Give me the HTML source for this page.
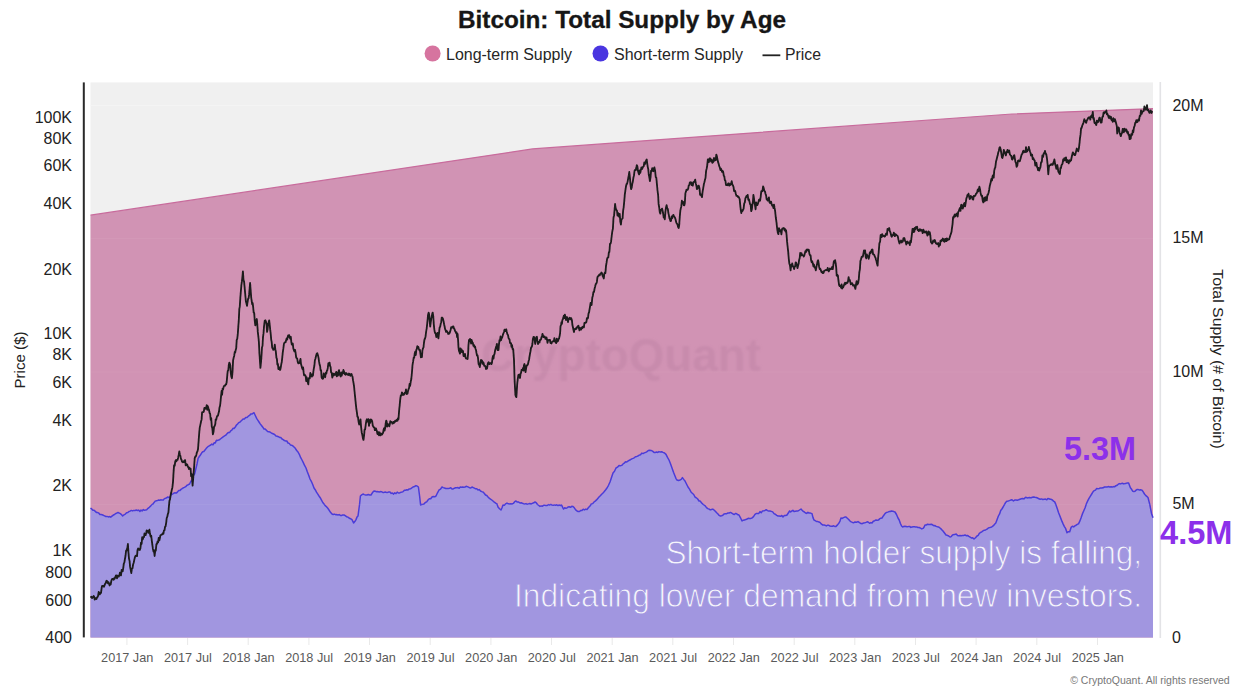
<!DOCTYPE html>
<html><head><meta charset="utf-8">
<style>
html,body{margin:0;padding:0;background:#fff;}
body{width:1250px;height:700px;overflow:hidden;position:relative;font-family:"Liberation Sans",sans-serif;}
svg{position:absolute;left:0;top:0;}
text{font-family:"Liberation Sans",sans-serif;}
</style></head><body>
<svg width="1250" height="700" viewBox="0 0 1250 700">
<defs><filter id="lsoft" x="-2%" y="-2%" width="104%" height="104%"><feGaussianBlur stdDeviation="0.3"/></filter><filter id="soft" x="-5%" y="-5%" width="110%" height="110%"><feGaussianBlur stdDeviation="0.8"/></filter></defs>
<rect x="0" y="0" width="1250" height="700" fill="#ffffff"/>
<!-- plot bg -->
<rect x="90.5" y="82.4" width="1062.5" height="555.1" fill="#f0f0f0"/>
<rect x="90.5" y="105" width="1062.5" height="1" fill="#f4f4f4"/>
<!-- long-term (total) area -->
<path d="M90.5,215.2 L532.6,148.9 L1012.0,114.0 L1153.0,108.6 L1153.0,637.5 L90.5,637.5 Z" fill="#d193b4"/>
<path d="M90.5,215.2 L532.6,148.9 L1012.0,114.0 L1153.0,108.6" fill="none" stroke="#c86b9c" stroke-width="1.2"/>
<!-- watermark -->
<text x="621" y="371" font-size="46" font-weight="bold" text-anchor="middle" fill="#b97fa1" fill-opacity="0.38" textLength="280" lengthAdjust="spacingAndGlyphs" filter="url(#soft)">CryptoQuant</text>
<!-- short-term area -->
<path d="M90.5,508.0 L91.7,508.9 L92.9,510.3 L94.1,510.3 L95.3,511.4 L96.4,512.4 L97.6,512.6 L98.7,513.0 L99.9,514.5 L101.0,514.6 L102.1,514.8 L103.4,515.3 L104.6,515.9 L105.8,516.5 L107.0,516.4 L108.3,516.9 L109.5,516.6 L110.7,517.2 L111.9,516.2 L113.0,515.3 L114.1,514.8 L115.4,513.7 L116.7,513.1 L118.0,512.5 L119.3,513.1 L120.4,513.6 L121.6,514.7 L122.7,515.9 L124.0,514.8 L125.3,514.1 L126.6,512.7 L127.9,512.4 L129.0,511.5 L130.1,511.1 L131.3,510.4 L132.5,510.9 L133.7,510.4 L135.0,510.6 L136.2,510.0 L137.4,510.5 L138.6,510.1 L139.9,511.4 L141.0,510.1 L142.1,511.0 L143.3,509.6 L144.4,510.3 L145.6,510.1 L146.7,509.7 L148.0,508.3 L149.3,507.3 L150.6,506.1 L151.8,504.6 L153.0,504.0 L154.1,502.4 L155.3,501.1 L156.4,500.7 L157.6,500.4 L158.7,500.0 L159.8,500.2 L161.0,499.8 L162.1,500.1 L163.3,500.0 L164.4,498.6 L165.6,498.2 L166.7,497.8 L167.8,496.9 L169.0,497.7 L170.1,497.0 L171.3,494.5 L172.4,494.3 L173.7,493.2 L175.0,492.7 L176.3,493.1 L177.6,491.9 L178.7,490.5 L179.8,490.6 L181.0,489.4 L182.1,488.7 L183.3,487.8 L184.4,487.4 L185.7,486.7 L187.0,485.2 L188.3,484.7 L189.6,484.0 L190.8,481.5 L192.1,479.7 L193.4,475.5 L194.7,473.7 L195.8,469.0 L197.0,464.0 L198.1,458.3 L199.3,456.5 L200.4,455.0 L201.6,453.1 L202.7,451.8 L203.8,451.5 L205.0,450.0 L206.1,448.6 L207.3,447.3 L208.4,446.3 L209.6,445.6 L210.7,445.0 L211.8,444.1 L213.0,444.8 L214.1,442.8 L215.3,442.9 L216.4,440.2 L217.6,440.4 L218.7,440.0 L219.8,439.5 L221.0,438.5 L222.1,437.7 L223.4,436.6 L224.6,435.9 L225.8,435.2 L227.0,433.8 L228.2,432.6 L229.5,432.6 L230.7,430.9 L231.8,430.2 L233.0,428.3 L234.1,428.4 L235.3,427.0 L236.4,425.1 L237.6,424.0 L238.7,422.6 L239.8,422.2 L241.0,421.0 L242.1,420.0 L243.3,418.9 L244.4,418.9 L245.7,417.5 L247.0,417.5 L248.3,416.2 L249.6,415.4 L250.7,414.1 L251.8,414.1 L252.9,413.4 L254.0,412.7 L255.4,415.7 L256.8,418.6 L258.1,420.6 L259.0,422.0 L260.2,423.9 L261.5,425.5 L262.8,427.2 L264.0,429.0 L265.2,429.1 L266.4,430.3 L267.6,431.5 L268.8,431.7 L270.0,432.0 L271.2,432.8 L272.4,433.5 L273.6,434.0 L274.8,434.7 L276.0,436.0 L277.2,436.2 L278.4,436.7 L279.6,437.4 L280.8,437.6 L282.0,439.0 L283.2,439.7 L284.4,440.6 L285.6,440.9 L286.8,441.0 L288.0,443.0 L289.2,443.4 L290.4,444.9 L291.6,445.2 L292.8,445.9 L294.0,447.0 L295.3,448.3 L296.7,450.5 L298.0,452.0 L299.3,454.3 L300.7,457.7 L302.0,460.0 L303.3,462.6 L304.7,465.7 L306.0,468.0 L307.3,471.8 L308.7,475.3 L310.0,479.0 L311.3,481.3 L312.7,484.5 L314.0,488.0 L315.2,489.7 L316.5,492.2 L317.8,494.2 L319.0,496.0 L320.2,497.7 L321.5,500.1 L322.8,502.5 L324.0,504.0 L325.2,505.6 L326.5,506.8 L327.8,508.3 L329.0,510.0 L330.5,512.3 L332.0,514.0 L333.2,514.5 L334.4,514.1 L335.6,514.7 L336.8,514.6 L338.0,515.0 L339.2,514.6 L340.4,515.4 L341.6,515.5 L342.8,514.9 L344.0,515.0 L345.2,515.7 L346.5,516.7 L347.8,517.0 L349.0,518.0 L350.5,518.7 L352.0,519.6 L353.6,523.0 L354.8,521.6 L356.0,519.6 L357.0,517.1 L358.0,516.0 L359.6,504.0 L360.4,496.0 L361.7,494.9 L363.0,494.0 L364.3,494.6 L365.7,495.0 L367.0,495.0 L368.3,494.5 L369.7,495.0 L371.0,495.0 L372.5,492.6 L374.0,491.0 L375.3,491.3 L376.7,491.7 L378.0,491.6 L379.2,492.0 L380.4,491.6 L381.6,491.7 L382.8,492.5 L384.0,492.4 L385.2,492.0 L386.4,492.4 L387.6,492.4 L388.8,492.0 L390.0,492.0 L391.2,493.4 L392.4,493.0 L393.6,494.1 L394.8,492.8 L396.0,493.6 L397.2,492.1 L398.4,493.0 L399.6,492.9 L400.8,492.3 L402.0,492.0 L403.2,491.6 L404.4,490.3 L405.6,490.2 L406.8,489.7 L408.0,490.0 L409.2,488.9 L410.5,488.8 L411.8,487.9 L413.0,487.0 L414.5,486.5 L416.0,485.6 L417.2,486.1 L418.4,487.0 L419.6,496.0 L420.6,505.0 L421.7,504.4 L422.9,504.3 L424.0,504.0 L425.3,502.5 L426.7,501.9 L428.0,500.0 L429.3,498.8 L430.7,498.8 L432.0,497.0 L433.3,496.5 L434.7,496.8 L436.0,496.0 L437.5,492.8 L439.0,490.0 L440.5,489.2 L442.0,487.0 L443.2,487.6 L444.5,488.0 L445.8,488.5 L447.0,488.4 L448.2,488.4 L449.5,488.2 L450.8,487.8 L452.0,489.0 L453.2,488.9 L454.4,488.2 L455.6,487.8 L456.8,487.7 L458.0,487.6 L459.2,488.3 L460.3,486.9 L461.5,487.2 L462.7,487.0 L463.8,487.3 L465.0,487.0 L466.2,486.3 L467.3,486.6 L468.5,487.2 L469.7,487.8 L470.8,488.0 L472.0,487.0 L473.2,487.6 L474.4,488.2 L475.6,488.8 L476.8,488.8 L478.0,490.0 L479.2,489.6 L480.5,491.0 L481.8,491.6 L483.0,492.0 L484.2,493.2 L485.5,495.0 L486.8,495.5 L488.0,497.0 L489.2,498.1 L490.5,499.1 L491.8,500.0 L493.0,501.0 L494.3,502.2 L495.7,503.2 L497.0,504.0 L498.0,507.0 L499.5,508.7 L501.0,510.0 L502.0,507.7 L503.0,505.0 L504.3,505.3 L505.7,503.9 L507.0,503.0 L508.2,503.8 L509.5,504.0 L510.8,503.8 L512.0,504.0 L513.3,503.4 L514.7,501.7 L516.0,501.0 L517.3,502.1 L518.7,502.1 L520.0,503.0 L521.2,502.8 L522.4,503.3 L523.6,503.7 L524.8,504.0 L526.0,503.6 L527.2,504.3 L528.5,503.9 L529.8,503.5 L531.0,504.0 L532.3,503.4 L533.7,502.8 L535.0,502.0 L536.2,502.7 L537.5,504.5 L538.8,505.5 L540.0,506.4 L541.2,505.9 L542.4,506.2 L543.6,505.3 L544.8,505.2 L546.0,505.6 L547.2,505.5 L548.4,504.6 L549.6,505.0 L550.8,504.4 L552.0,505.0 L553.2,505.2 L554.4,504.9 L555.6,505.3 L556.8,504.8 L558.0,505.6 L559.2,505.0 L560.4,505.5 L561.6,505.0 L562.6,507.3 L563.6,509.0 L564.7,507.8 L565.8,508.2 L566.9,508.0 L568.0,507.0 L569.2,506.8 L570.5,507.3 L571.8,506.3 L573.0,506.4 L574.3,507.8 L575.7,509.9 L577.0,511.0 L578.2,511.6 L579.5,511.5 L580.8,510.4 L582.0,510.4 L583.2,509.3 L584.5,509.9 L585.8,509.1 L587.0,509.6 L588.5,507.5 L590.0,506.0 L591.3,504.0 L592.7,503.6 L594.0,502.0 L595.2,501.2 L596.5,499.9 L597.8,498.4 L599.0,497.0 L600.3,495.7 L601.7,494.2 L603.0,493.0 L604.3,491.5 L605.7,489.8 L607.0,488.0 L608.5,485.3 L610.0,482.0 L611.5,477.4 L613.0,473.0 L614.5,471.3 L616.0,468.0 L617.5,467.2 L619.0,465.6 L620.3,465.8 L621.7,465.4 L623.0,464.0 L624.2,463.2 L625.5,461.7 L626.8,462.0 L628.0,461.0 L629.2,460.3 L630.5,459.7 L631.8,458.9 L633.0,458.4 L634.2,457.8 L635.5,456.7 L636.8,456.4 L638.0,456.0 L639.2,455.1 L640.5,454.7 L641.8,453.1 L643.0,453.6 L644.3,452.9 L645.7,452.4 L647.0,451.6 L648.3,450.5 L649.7,450.2 L651.0,450.4 L652.5,451.2 L654.0,452.4 L655.2,452.4 L656.5,452.1 L657.8,452.4 L659.0,451.6 L660.3,452.1 L661.7,451.8 L663.0,452.4 L664.5,453.0 L666.0,454.4 L667.5,457.4 L669.0,460.0 L670.5,463.8 L672.0,468.0 L673.5,472.3 L675.0,476.0 L676.0,478.6 L677.0,480.0 L678.5,480.5 L680.0,480.0 L681.2,479.4 L682.4,477.6 L683.7,479.4 L685.0,481.0 L686.5,484.0 L688.0,487.0 L689.5,489.2 L691.0,492.0 L692.3,493.3 L693.7,494.5 L695.0,497.0 L696.3,497.8 L697.7,499.0 L699.0,501.0 L700.2,501.1 L701.5,502.8 L702.8,504.1 L704.0,505.0 L705.2,505.9 L706.5,507.6 L707.8,508.6 L709.0,509.0 L710.2,509.9 L711.5,509.5 L712.8,509.1 L714.0,510.0 L715.3,511.3 L716.7,512.8 L718.0,514.0 L719.2,515.4 L720.4,516.0 L721.6,515.7 L722.8,515.3 L724.0,514.0 L725.3,513.8 L726.7,513.7 L728.0,513.0 L729.2,513.0 L730.5,512.4 L731.8,513.2 L733.0,514.0 L734.3,514.5 L735.7,513.4 L737.0,514.0 L738.0,514.8 L739.0,515.0 L740.5,517.8 L742.0,521.0 L743.2,520.2 L744.5,519.9 L745.8,519.6 L747.0,519.0 L748.2,518.3 L749.5,518.4 L750.8,518.4 L752.0,518.0 L753.5,516.6 L755.0,514.4 L756.2,513.5 L757.5,513.6 L758.8,513.4 L760.0,511.6 L761.2,512.8 L762.5,510.9 L763.8,510.7 L765.0,510.4 L766.2,509.7 L767.5,510.6 L768.8,511.1 L770.0,511.0 L771.3,511.4 L772.7,511.9 L774.0,513.6 L775.3,514.2 L776.7,515.4 L778.0,516.0 L779.2,516.0 L780.5,516.3 L781.8,515.5 L783.0,517.0 L784.3,515.6 L785.7,515.5 L787.0,515.0 L788.3,513.0 L789.6,511.0 L790.7,511.9 L791.8,511.0 L792.9,510.3 L794.0,511.6 L795.3,511.2 L796.7,510.9 L798.0,511.0 L799.5,510.0 L801.0,509.0 L802.1,510.3 L803.3,511.4 L804.4,512.0 L805.5,513.0 L806.7,513.4 L807.9,512.3 L809.0,513.0 L810.5,513.1 L812.0,513.6 L813.0,517.6 L814.0,520.0 L815.2,520.6 L816.5,521.5 L817.8,521.6 L819.0,522.0 L820.2,522.6 L821.5,524.2 L822.8,525.0 L824.0,525.0 L825.2,525.3 L826.4,525.9 L827.6,525.2 L828.8,525.3 L830.0,526.0 L831.2,526.3 L832.4,526.3 L833.6,525.8 L834.8,526.4 L836.0,526.4 L837.5,524.9 L839.0,523.0 L840.0,521.1 L841.0,518.0 L842.2,518.4 L843.5,517.6 L844.8,517.1 L846.0,517.0 L847.3,518.2 L848.7,519.5 L850.0,521.0 L851.2,521.9 L852.5,522.4 L853.8,522.7 L855.0,522.0 L856.5,522.3 L858.0,521.6 L859.5,522.7 L861.0,523.6 L862.2,523.7 L863.5,523.0 L864.8,522.8 L866.0,522.4 L867.2,521.8 L868.4,522.2 L869.6,523.3 L870.8,522.6 L872.0,523.0 L873.3,521.2 L874.7,520.7 L876.0,520.0 L877.2,520.2 L878.4,520.1 L879.6,518.9 L880.8,518.2 L882.0,518.0 L883.5,515.7 L885.0,513.6 L886.3,512.5 L887.7,512.1 L889.0,511.6 L890.2,511.5 L891.4,511.0 L892.6,511.3 L893.8,511.6 L895.0,512.0 L896.5,514.5 L898.0,518.0 L899.2,520.0 L900.4,523.5 L901.6,526.0 L902.7,527.0 L903.8,526.4 L904.9,526.2 L906.0,526.4 L907.2,526.7 L908.4,526.6 L909.6,526.4 L910.8,527.4 L912.0,527.0 L913.2,526.8 L914.4,526.8 L915.6,526.9 L916.8,526.9 L918.0,527.6 L919.2,527.5 L920.5,528.2 L921.8,528.9 L923.0,528.4 L924.0,527.2 L925.0,525.0 L926.2,525.1 L927.5,524.2 L928.8,524.4 L930.0,524.4 L931.2,524.2 L932.5,524.8 L933.8,525.7 L935.0,525.6 L936.2,526.4 L937.5,526.8 L938.8,527.1 L940.0,528.0 L941.5,529.4 L943.0,531.0 L944.5,533.0 L946.0,535.0 L947.3,535.3 L948.7,536.0 L950.0,537.0 L951.2,536.6 L952.5,535.0 L953.8,534.6 L955.0,534.4 L956.2,534.0 L957.5,535.5 L958.8,535.7 L960.0,535.6 L961.2,535.8 L962.5,535.6 L963.8,535.4 L965.0,535.0 L966.2,535.7 L967.5,535.4 L968.8,536.4 L970.0,537.0 L971.3,537.9 L972.7,537.8 L974.0,539.0 L975.5,537.7 L977.0,536.0 L978.2,535.3 L979.3,533.4 L980.5,532.5 L981.7,531.8 L983.0,530.9 L984.3,530.2 L985.6,529.9 L987.0,529.2 L988.3,528.0 L989.6,527.6 L990.9,527.2 L992.2,526.6 L993.4,525.7 L994.6,524.3 L995.8,523.0 L997.1,519.5 L998.4,516.0 L999.6,513.9 L1000.7,510.5 L1001.9,509.0 L1003.1,507.0 L1004.3,504.8 L1005.4,502.8 L1006.8,501.3 L1008.1,501.0 L1009.4,500.6 L1010.7,500.1 L1012.0,499.8 L1013.4,501.0 L1014.7,500.1 L1016.0,499.9 L1017.3,500.2 L1018.6,499.8 L1020.0,499.2 L1021.3,498.7 L1022.6,498.5 L1023.9,498.9 L1025.7,497.2 L1027.0,497.9 L1028.3,497.7 L1029.6,497.5 L1031.0,497.9 L1032.3,497.3 L1033.6,497.0 L1034.9,497.3 L1036.2,497.5 L1037.6,498.0 L1038.9,498.8 L1040.2,499.3 L1041.5,498.9 L1042.8,499.5 L1044.2,499.2 L1045.5,499.1 L1046.8,499.8 L1047.9,498.5 L1049.0,498.7 L1050.1,499.3 L1051.2,499.3 L1052.4,500.0 L1053.5,501.1 L1054.7,501.9 L1056.0,504.9 L1057.4,509.0 L1058.5,512.4 L1059.7,515.6 L1060.9,518.6 L1062.0,521.4 L1063.2,524.1 L1064.4,526.6 L1065.7,528.7 L1067.0,532.7 L1068.4,531.7 L1069.7,531.8 L1071.1,527.4 L1072.4,526.2 L1073.7,526.9 L1075.0,525.7 L1076.1,525.2 L1077.3,524.3 L1078.5,523.9 L1079.8,521.2 L1081.1,517.8 L1082.4,513.9 L1083.8,510.7 L1085.1,507.7 L1086.4,503.7 L1087.7,500.9 L1089.0,498.4 L1090.4,496.1 L1091.7,494.0 L1093.0,491.8 L1094.3,490.5 L1095.5,490.1 L1096.7,488.4 L1097.8,488.7 L1099.2,488.5 L1100.5,487.9 L1101.8,488.0 L1103.1,487.8 L1104.4,487.0 L1105.8,487.1 L1107.1,487.0 L1108.4,486.6 L1109.7,486.9 L1111.0,486.8 L1112.4,487.0 L1113.7,486.6 L1114.8,486.7 L1116.0,485.7 L1117.2,485.2 L1118.3,484.2 L1119.4,483.6 L1120.5,483.9 L1121.6,483.4 L1122.7,483.3 L1123.8,483.9 L1124.9,483.6 L1126.0,483.4 L1127.3,482.9 L1128.6,483.1 L1130.4,487.8 L1131.6,489.3 L1132.7,491.2 L1133.9,491.4 L1135.0,491.2 L1136.1,490.1 L1137.2,489.5 L1138.3,489.6 L1139.5,490.0 L1140.7,489.8 L1141.8,490.1 L1143.2,491.8 L1144.5,494.0 L1145.6,495.4 L1146.8,496.4 L1148.0,497.5 L1149.8,504.6 L1151.5,513.4 L1153.0,517.8 L1153.0,637.5 L90.5,637.5 Z" fill="#a196e0"/>
<path d="M90.5,508.0 L91.7,508.9 L92.9,510.3 L94.1,510.3 L95.3,511.4 L96.4,512.4 L97.6,512.6 L98.7,513.0 L99.9,514.5 L101.0,514.6 L102.1,514.8 L103.4,515.3 L104.6,515.9 L105.8,516.5 L107.0,516.4 L108.3,516.9 L109.5,516.6 L110.7,517.2 L111.9,516.2 L113.0,515.3 L114.1,514.8 L115.4,513.7 L116.7,513.1 L118.0,512.5 L119.3,513.1 L120.4,513.6 L121.6,514.7 L122.7,515.9 L124.0,514.8 L125.3,514.1 L126.6,512.7 L127.9,512.4 L129.0,511.5 L130.1,511.1 L131.3,510.4 L132.5,510.9 L133.7,510.4 L135.0,510.6 L136.2,510.0 L137.4,510.5 L138.6,510.1 L139.9,511.4 L141.0,510.1 L142.1,511.0 L143.3,509.6 L144.4,510.3 L145.6,510.1 L146.7,509.7 L148.0,508.3 L149.3,507.3 L150.6,506.1 L151.8,504.6 L153.0,504.0 L154.1,502.4 L155.3,501.1 L156.4,500.7 L157.6,500.4 L158.7,500.0 L159.8,500.2 L161.0,499.8 L162.1,500.1 L163.3,500.0 L164.4,498.6 L165.6,498.2 L166.7,497.8 L167.8,496.9 L169.0,497.7 L170.1,497.0 L171.3,494.5 L172.4,494.3 L173.7,493.2 L175.0,492.7 L176.3,493.1 L177.6,491.9 L178.7,490.5 L179.8,490.6 L181.0,489.4 L182.1,488.7 L183.3,487.8 L184.4,487.4 L185.7,486.7 L187.0,485.2 L188.3,484.7 L189.6,484.0 L190.8,481.5 L192.1,479.7 L193.4,475.5 L194.7,473.7 L195.8,469.0 L197.0,464.0 L198.1,458.3 L199.3,456.5 L200.4,455.0 L201.6,453.1 L202.7,451.8 L203.8,451.5 L205.0,450.0 L206.1,448.6 L207.3,447.3 L208.4,446.3 L209.6,445.6 L210.7,445.0 L211.8,444.1 L213.0,444.8 L214.1,442.8 L215.3,442.9 L216.4,440.2 L217.6,440.4 L218.7,440.0 L219.8,439.5 L221.0,438.5 L222.1,437.7 L223.4,436.6 L224.6,435.9 L225.8,435.2 L227.0,433.8 L228.2,432.6 L229.5,432.6 L230.7,430.9 L231.8,430.2 L233.0,428.3 L234.1,428.4 L235.3,427.0 L236.4,425.1 L237.6,424.0 L238.7,422.6 L239.8,422.2 L241.0,421.0 L242.1,420.0 L243.3,418.9 L244.4,418.9 L245.7,417.5 L247.0,417.5 L248.3,416.2 L249.6,415.4 L250.7,414.1 L251.8,414.1 L252.9,413.4 L254.0,412.7 L255.4,415.7 L256.8,418.6 L258.1,420.6 L259.0,422.0 L260.2,423.9 L261.5,425.5 L262.8,427.2 L264.0,429.0 L265.2,429.1 L266.4,430.3 L267.6,431.5 L268.8,431.7 L270.0,432.0 L271.2,432.8 L272.4,433.5 L273.6,434.0 L274.8,434.7 L276.0,436.0 L277.2,436.2 L278.4,436.7 L279.6,437.4 L280.8,437.6 L282.0,439.0 L283.2,439.7 L284.4,440.6 L285.6,440.9 L286.8,441.0 L288.0,443.0 L289.2,443.4 L290.4,444.9 L291.6,445.2 L292.8,445.9 L294.0,447.0 L295.3,448.3 L296.7,450.5 L298.0,452.0 L299.3,454.3 L300.7,457.7 L302.0,460.0 L303.3,462.6 L304.7,465.7 L306.0,468.0 L307.3,471.8 L308.7,475.3 L310.0,479.0 L311.3,481.3 L312.7,484.5 L314.0,488.0 L315.2,489.7 L316.5,492.2 L317.8,494.2 L319.0,496.0 L320.2,497.7 L321.5,500.1 L322.8,502.5 L324.0,504.0 L325.2,505.6 L326.5,506.8 L327.8,508.3 L329.0,510.0 L330.5,512.3 L332.0,514.0 L333.2,514.5 L334.4,514.1 L335.6,514.7 L336.8,514.6 L338.0,515.0 L339.2,514.6 L340.4,515.4 L341.6,515.5 L342.8,514.9 L344.0,515.0 L345.2,515.7 L346.5,516.7 L347.8,517.0 L349.0,518.0 L350.5,518.7 L352.0,519.6 L353.6,523.0 L354.8,521.6 L356.0,519.6 L357.0,517.1 L358.0,516.0 L359.6,504.0 L360.4,496.0 L361.7,494.9 L363.0,494.0 L364.3,494.6 L365.7,495.0 L367.0,495.0 L368.3,494.5 L369.7,495.0 L371.0,495.0 L372.5,492.6 L374.0,491.0 L375.3,491.3 L376.7,491.7 L378.0,491.6 L379.2,492.0 L380.4,491.6 L381.6,491.7 L382.8,492.5 L384.0,492.4 L385.2,492.0 L386.4,492.4 L387.6,492.4 L388.8,492.0 L390.0,492.0 L391.2,493.4 L392.4,493.0 L393.6,494.1 L394.8,492.8 L396.0,493.6 L397.2,492.1 L398.4,493.0 L399.6,492.9 L400.8,492.3 L402.0,492.0 L403.2,491.6 L404.4,490.3 L405.6,490.2 L406.8,489.7 L408.0,490.0 L409.2,488.9 L410.5,488.8 L411.8,487.9 L413.0,487.0 L414.5,486.5 L416.0,485.6 L417.2,486.1 L418.4,487.0 L419.6,496.0 L420.6,505.0 L421.7,504.4 L422.9,504.3 L424.0,504.0 L425.3,502.5 L426.7,501.9 L428.0,500.0 L429.3,498.8 L430.7,498.8 L432.0,497.0 L433.3,496.5 L434.7,496.8 L436.0,496.0 L437.5,492.8 L439.0,490.0 L440.5,489.2 L442.0,487.0 L443.2,487.6 L444.5,488.0 L445.8,488.5 L447.0,488.4 L448.2,488.4 L449.5,488.2 L450.8,487.8 L452.0,489.0 L453.2,488.9 L454.4,488.2 L455.6,487.8 L456.8,487.7 L458.0,487.6 L459.2,488.3 L460.3,486.9 L461.5,487.2 L462.7,487.0 L463.8,487.3 L465.0,487.0 L466.2,486.3 L467.3,486.6 L468.5,487.2 L469.7,487.8 L470.8,488.0 L472.0,487.0 L473.2,487.6 L474.4,488.2 L475.6,488.8 L476.8,488.8 L478.0,490.0 L479.2,489.6 L480.5,491.0 L481.8,491.6 L483.0,492.0 L484.2,493.2 L485.5,495.0 L486.8,495.5 L488.0,497.0 L489.2,498.1 L490.5,499.1 L491.8,500.0 L493.0,501.0 L494.3,502.2 L495.7,503.2 L497.0,504.0 L498.0,507.0 L499.5,508.7 L501.0,510.0 L502.0,507.7 L503.0,505.0 L504.3,505.3 L505.7,503.9 L507.0,503.0 L508.2,503.8 L509.5,504.0 L510.8,503.8 L512.0,504.0 L513.3,503.4 L514.7,501.7 L516.0,501.0 L517.3,502.1 L518.7,502.1 L520.0,503.0 L521.2,502.8 L522.4,503.3 L523.6,503.7 L524.8,504.0 L526.0,503.6 L527.2,504.3 L528.5,503.9 L529.8,503.5 L531.0,504.0 L532.3,503.4 L533.7,502.8 L535.0,502.0 L536.2,502.7 L537.5,504.5 L538.8,505.5 L540.0,506.4 L541.2,505.9 L542.4,506.2 L543.6,505.3 L544.8,505.2 L546.0,505.6 L547.2,505.5 L548.4,504.6 L549.6,505.0 L550.8,504.4 L552.0,505.0 L553.2,505.2 L554.4,504.9 L555.6,505.3 L556.8,504.8 L558.0,505.6 L559.2,505.0 L560.4,505.5 L561.6,505.0 L562.6,507.3 L563.6,509.0 L564.7,507.8 L565.8,508.2 L566.9,508.0 L568.0,507.0 L569.2,506.8 L570.5,507.3 L571.8,506.3 L573.0,506.4 L574.3,507.8 L575.7,509.9 L577.0,511.0 L578.2,511.6 L579.5,511.5 L580.8,510.4 L582.0,510.4 L583.2,509.3 L584.5,509.9 L585.8,509.1 L587.0,509.6 L588.5,507.5 L590.0,506.0 L591.3,504.0 L592.7,503.6 L594.0,502.0 L595.2,501.2 L596.5,499.9 L597.8,498.4 L599.0,497.0 L600.3,495.7 L601.7,494.2 L603.0,493.0 L604.3,491.5 L605.7,489.8 L607.0,488.0 L608.5,485.3 L610.0,482.0 L611.5,477.4 L613.0,473.0 L614.5,471.3 L616.0,468.0 L617.5,467.2 L619.0,465.6 L620.3,465.8 L621.7,465.4 L623.0,464.0 L624.2,463.2 L625.5,461.7 L626.8,462.0 L628.0,461.0 L629.2,460.3 L630.5,459.7 L631.8,458.9 L633.0,458.4 L634.2,457.8 L635.5,456.7 L636.8,456.4 L638.0,456.0 L639.2,455.1 L640.5,454.7 L641.8,453.1 L643.0,453.6 L644.3,452.9 L645.7,452.4 L647.0,451.6 L648.3,450.5 L649.7,450.2 L651.0,450.4 L652.5,451.2 L654.0,452.4 L655.2,452.4 L656.5,452.1 L657.8,452.4 L659.0,451.6 L660.3,452.1 L661.7,451.8 L663.0,452.4 L664.5,453.0 L666.0,454.4 L667.5,457.4 L669.0,460.0 L670.5,463.8 L672.0,468.0 L673.5,472.3 L675.0,476.0 L676.0,478.6 L677.0,480.0 L678.5,480.5 L680.0,480.0 L681.2,479.4 L682.4,477.6 L683.7,479.4 L685.0,481.0 L686.5,484.0 L688.0,487.0 L689.5,489.2 L691.0,492.0 L692.3,493.3 L693.7,494.5 L695.0,497.0 L696.3,497.8 L697.7,499.0 L699.0,501.0 L700.2,501.1 L701.5,502.8 L702.8,504.1 L704.0,505.0 L705.2,505.9 L706.5,507.6 L707.8,508.6 L709.0,509.0 L710.2,509.9 L711.5,509.5 L712.8,509.1 L714.0,510.0 L715.3,511.3 L716.7,512.8 L718.0,514.0 L719.2,515.4 L720.4,516.0 L721.6,515.7 L722.8,515.3 L724.0,514.0 L725.3,513.8 L726.7,513.7 L728.0,513.0 L729.2,513.0 L730.5,512.4 L731.8,513.2 L733.0,514.0 L734.3,514.5 L735.7,513.4 L737.0,514.0 L738.0,514.8 L739.0,515.0 L740.5,517.8 L742.0,521.0 L743.2,520.2 L744.5,519.9 L745.8,519.6 L747.0,519.0 L748.2,518.3 L749.5,518.4 L750.8,518.4 L752.0,518.0 L753.5,516.6 L755.0,514.4 L756.2,513.5 L757.5,513.6 L758.8,513.4 L760.0,511.6 L761.2,512.8 L762.5,510.9 L763.8,510.7 L765.0,510.4 L766.2,509.7 L767.5,510.6 L768.8,511.1 L770.0,511.0 L771.3,511.4 L772.7,511.9 L774.0,513.6 L775.3,514.2 L776.7,515.4 L778.0,516.0 L779.2,516.0 L780.5,516.3 L781.8,515.5 L783.0,517.0 L784.3,515.6 L785.7,515.5 L787.0,515.0 L788.3,513.0 L789.6,511.0 L790.7,511.9 L791.8,511.0 L792.9,510.3 L794.0,511.6 L795.3,511.2 L796.7,510.9 L798.0,511.0 L799.5,510.0 L801.0,509.0 L802.1,510.3 L803.3,511.4 L804.4,512.0 L805.5,513.0 L806.7,513.4 L807.9,512.3 L809.0,513.0 L810.5,513.1 L812.0,513.6 L813.0,517.6 L814.0,520.0 L815.2,520.6 L816.5,521.5 L817.8,521.6 L819.0,522.0 L820.2,522.6 L821.5,524.2 L822.8,525.0 L824.0,525.0 L825.2,525.3 L826.4,525.9 L827.6,525.2 L828.8,525.3 L830.0,526.0 L831.2,526.3 L832.4,526.3 L833.6,525.8 L834.8,526.4 L836.0,526.4 L837.5,524.9 L839.0,523.0 L840.0,521.1 L841.0,518.0 L842.2,518.4 L843.5,517.6 L844.8,517.1 L846.0,517.0 L847.3,518.2 L848.7,519.5 L850.0,521.0 L851.2,521.9 L852.5,522.4 L853.8,522.7 L855.0,522.0 L856.5,522.3 L858.0,521.6 L859.5,522.7 L861.0,523.6 L862.2,523.7 L863.5,523.0 L864.8,522.8 L866.0,522.4 L867.2,521.8 L868.4,522.2 L869.6,523.3 L870.8,522.6 L872.0,523.0 L873.3,521.2 L874.7,520.7 L876.0,520.0 L877.2,520.2 L878.4,520.1 L879.6,518.9 L880.8,518.2 L882.0,518.0 L883.5,515.7 L885.0,513.6 L886.3,512.5 L887.7,512.1 L889.0,511.6 L890.2,511.5 L891.4,511.0 L892.6,511.3 L893.8,511.6 L895.0,512.0 L896.5,514.5 L898.0,518.0 L899.2,520.0 L900.4,523.5 L901.6,526.0 L902.7,527.0 L903.8,526.4 L904.9,526.2 L906.0,526.4 L907.2,526.7 L908.4,526.6 L909.6,526.4 L910.8,527.4 L912.0,527.0 L913.2,526.8 L914.4,526.8 L915.6,526.9 L916.8,526.9 L918.0,527.6 L919.2,527.5 L920.5,528.2 L921.8,528.9 L923.0,528.4 L924.0,527.2 L925.0,525.0 L926.2,525.1 L927.5,524.2 L928.8,524.4 L930.0,524.4 L931.2,524.2 L932.5,524.8 L933.8,525.7 L935.0,525.6 L936.2,526.4 L937.5,526.8 L938.8,527.1 L940.0,528.0 L941.5,529.4 L943.0,531.0 L944.5,533.0 L946.0,535.0 L947.3,535.3 L948.7,536.0 L950.0,537.0 L951.2,536.6 L952.5,535.0 L953.8,534.6 L955.0,534.4 L956.2,534.0 L957.5,535.5 L958.8,535.7 L960.0,535.6 L961.2,535.8 L962.5,535.6 L963.8,535.4 L965.0,535.0 L966.2,535.7 L967.5,535.4 L968.8,536.4 L970.0,537.0 L971.3,537.9 L972.7,537.8 L974.0,539.0 L975.5,537.7 L977.0,536.0 L978.2,535.3 L979.3,533.4 L980.5,532.5 L981.7,531.8 L983.0,530.9 L984.3,530.2 L985.6,529.9 L987.0,529.2 L988.3,528.0 L989.6,527.6 L990.9,527.2 L992.2,526.6 L993.4,525.7 L994.6,524.3 L995.8,523.0 L997.1,519.5 L998.4,516.0 L999.6,513.9 L1000.7,510.5 L1001.9,509.0 L1003.1,507.0 L1004.3,504.8 L1005.4,502.8 L1006.8,501.3 L1008.1,501.0 L1009.4,500.6 L1010.7,500.1 L1012.0,499.8 L1013.4,501.0 L1014.7,500.1 L1016.0,499.9 L1017.3,500.2 L1018.6,499.8 L1020.0,499.2 L1021.3,498.7 L1022.6,498.5 L1023.9,498.9 L1025.7,497.2 L1027.0,497.9 L1028.3,497.7 L1029.6,497.5 L1031.0,497.9 L1032.3,497.3 L1033.6,497.0 L1034.9,497.3 L1036.2,497.5 L1037.6,498.0 L1038.9,498.8 L1040.2,499.3 L1041.5,498.9 L1042.8,499.5 L1044.2,499.2 L1045.5,499.1 L1046.8,499.8 L1047.9,498.5 L1049.0,498.7 L1050.1,499.3 L1051.2,499.3 L1052.4,500.0 L1053.5,501.1 L1054.7,501.9 L1056.0,504.9 L1057.4,509.0 L1058.5,512.4 L1059.7,515.6 L1060.9,518.6 L1062.0,521.4 L1063.2,524.1 L1064.4,526.6 L1065.7,528.7 L1067.0,532.7 L1068.4,531.7 L1069.7,531.8 L1071.1,527.4 L1072.4,526.2 L1073.7,526.9 L1075.0,525.7 L1076.1,525.2 L1077.3,524.3 L1078.5,523.9 L1079.8,521.2 L1081.1,517.8 L1082.4,513.9 L1083.8,510.7 L1085.1,507.7 L1086.4,503.7 L1087.7,500.9 L1089.0,498.4 L1090.4,496.1 L1091.7,494.0 L1093.0,491.8 L1094.3,490.5 L1095.5,490.1 L1096.7,488.4 L1097.8,488.7 L1099.2,488.5 L1100.5,487.9 L1101.8,488.0 L1103.1,487.8 L1104.4,487.0 L1105.8,487.1 L1107.1,487.0 L1108.4,486.6 L1109.7,486.9 L1111.0,486.8 L1112.4,487.0 L1113.7,486.6 L1114.8,486.7 L1116.0,485.7 L1117.2,485.2 L1118.3,484.2 L1119.4,483.6 L1120.5,483.9 L1121.6,483.4 L1122.7,483.3 L1123.8,483.9 L1124.9,483.6 L1126.0,483.4 L1127.3,482.9 L1128.6,483.1 L1130.4,487.8 L1131.6,489.3 L1132.7,491.2 L1133.9,491.4 L1135.0,491.2 L1136.1,490.1 L1137.2,489.5 L1138.3,489.6 L1139.5,490.0 L1140.7,489.8 L1141.8,490.1 L1143.2,491.8 L1144.5,494.0 L1145.6,495.4 L1146.8,496.4 L1148.0,497.5 L1149.8,504.6 L1151.5,513.4 L1153.0,517.8" fill="none" stroke="#4b3cd8" stroke-width="1.5" stroke-linejoin="round"/>
<!-- faint grid -->
<g fill="#ffffff" fill-opacity="0.05"><rect x="90.5" y="238" width="1062.5" height="1"/><rect x="90.5" y="371.5" width="1062.5" height="1"/><rect x="90.5" y="504" width="1062.5" height="1"/></g>
<!-- price -->
<path d="M91.0,597.1 L91.5,596.8 L92.1,598.1 L92.6,597.4 L93.1,597.1 L93.7,596.0 L94.2,596.9 L94.7,599.6 L95.3,598.1 L95.9,598.8 L96.4,599.1 L97.0,597.5 L97.6,596.8 L98.1,595.8 L98.7,591.9 L99.3,594.4 L99.9,594.3 L100.4,592.7 L101.0,592.9 L101.6,588.3 L102.1,585.9 L102.7,585.9 L103.3,586.0 L103.9,586.8 L104.5,585.3 L105.1,583.8 L105.7,583.3 L106.3,581.0 L106.8,580.7 L107.4,582.2 L107.9,583.2 L108.4,582.1 L109.0,583.4 L109.6,585.5 L110.1,584.1 L110.7,584.4 L111.3,581.0 L111.9,579.3 L112.4,578.9 L113.0,578.9 L113.6,579.7 L114.1,578.3 L114.7,578.7 L115.3,577.2 L115.9,575.5 L116.4,575.5 L117.0,578.3 L117.6,575.6 L118.1,576.3 L118.7,576.6 L119.3,575.5 L119.9,572.6 L120.4,573.4 L121.0,575.4 L121.6,570.0 L122.1,570.6 L122.7,571.4 L123.3,567.6 L123.8,563.6 L124.4,562.4 L124.9,559.1 L125.5,556.0 L126.1,550.5 L126.7,550.5 L127.3,548.3 L127.9,544.0 L128.4,551.8 L129.0,558.6 L129.6,561.1 L130.1,566.9 L130.7,569.9 L131.3,573.1 L131.9,568.6 L132.5,568.4 L133.1,564.5 L133.7,562.8 L134.2,560.4 L134.8,557.6 L135.3,556.2 L135.9,555.6 L136.4,556.0 L137.0,556.2 L137.5,550.3 L138.1,548.4 L138.6,549.7 L139.2,549.1 L139.8,550.0 L140.4,548.3 L141.0,542.6 L141.6,544.0 L142.2,537.1 L142.8,539.3 L143.4,537.2 L144.0,537.1 L144.5,533.3 L145.1,535.2 L145.6,535.2 L146.2,532.7 L146.7,530.3 L147.3,530.9 L147.8,531.0 L148.4,532.9 L148.9,531.8 L149.4,529.6 L150.0,534.0 L150.6,536.6 L151.2,535.7 L151.8,540.6 L152.4,545.1 L152.9,548.9 L153.5,551.5 L154.0,550.1 L154.6,556.0 L155.2,550.9 L155.8,550.7 L156.4,544.2 L157.0,544.0 L157.6,541.3 L158.1,542.4 L158.7,537.9 L159.3,540.4 L159.8,538.5 L160.4,535.4 L161.0,535.0 L161.6,534.6 L162.2,534.5 L162.8,533.1 L163.4,533.9 L163.9,530.6 L164.5,530.3 L165.1,526.7 L165.6,526.3 L166.2,522.6 L166.7,518.0 L167.3,516.6 L167.8,514.3 L168.4,512.6 L168.9,506.5 L169.5,500.6 L170.0,499.4 L170.6,495.4 L171.2,492.8 L171.8,489.7 L172.4,487.4 L173.0,482.1 L173.6,471.6 L174.1,465.1 L174.7,465.9 L175.2,461.6 L175.8,460.2 L176.3,461.4 L176.9,460.0 L177.5,459.9 L178.1,457.9 L178.7,454.9 L179.3,451.4 L179.8,454.2 L180.4,456.0 L180.9,458.7 L181.5,459.8 L182.0,461.7 L182.5,461.9 L183.0,462.3 L183.6,461.3 L184.1,462.0 L184.6,461.7 L185.1,460.0 L185.7,465.3 L186.2,464.7 L186.7,464.1 L187.3,464.8 L187.8,466.8 L188.4,466.9 L188.9,469.0 L189.5,467.8 L190.0,468.9 L190.6,468.6 L191.1,476.2 L191.6,473.9 L192.1,478.4 L192.6,485.7 L193.2,478.2 L193.7,472.4 L194.2,465.7 L194.7,458.3 L195.3,456.4 L195.8,456.5 L196.3,455.0 L196.9,452.2 L197.4,451.4 L198.0,449.3 L198.6,441.4 L199.2,433.2 L199.8,427.4 L200.4,424.6 L201.0,421.8 L201.6,419.4 L202.1,412.4 L202.7,412.1 L203.3,412.0 L203.8,411.7 L204.4,408.0 L205.0,407.9 L205.6,408.8 L206.1,408.2 L206.7,405.1 L207.3,409.8 L207.8,406.2 L208.4,408.2 L209.0,409.8 L209.6,413.0 L210.1,413.7 L210.7,419.9 L211.2,418.1 L211.8,426.6 L212.3,427.9 L212.9,434.3 L213.5,432.1 L214.1,426.7 L214.7,426.0 L215.3,424.0 L215.7,419.3 L216.2,419.9 L216.8,417.1 L217.3,415.9 L217.9,415.7 L218.4,413.7 L219.0,411.6 L219.5,407.6 L220.0,406.0 L220.5,402.0 L221.1,395.6 L221.6,391.0 L222.1,394.8 L222.6,388.7 L223.1,389.4 L223.6,387.0 L224.1,385.9 L224.7,385.4 L225.2,385.6 L225.7,384.4 L226.2,384.2 L226.7,382.0 L227.2,376.1 L227.7,371.0 L228.3,370.3 L228.8,364.9 L229.3,362.7 L229.8,363.5 L230.3,365.6 L230.8,373.0 L231.3,376.7 L231.9,378.2 L232.5,372.2 L233.1,360.2 L233.7,357.6 L234.2,355.9 L234.7,352.0 L235.2,352.5 L235.7,349.9 L236.2,348.2 L236.7,340.1 L237.3,338.5 L237.8,333.9 L238.3,326.7 L238.8,320.1 L239.3,309.2 L239.8,306.4 L240.3,298.2 L240.9,290.7 L241.4,285.0 L241.9,281.4 L242.4,277.1 L242.9,271.4 L243.5,279.8 L244.1,281.8 L244.7,288.1 L245.3,295.0 L245.9,301.5 L246.5,303.6 L247.0,305.9 L247.6,301.9 L248.1,298.8 L248.6,298.4 L249.1,294.7 L249.6,288.8 L250.1,283.0 L250.6,289.5 L251.2,297.6 L251.7,301.0 L252.2,304.4 L252.7,303.1 L253.2,307.7 L253.7,312.6 L254.2,313.0 L254.8,321.2 L255.3,325.4 L255.8,323.9 L256.3,320.3 L256.8,319.0 L257.3,324.5 L257.8,331.9 L258.4,337.0 L258.9,342.2 L259.4,353.2 L259.9,360.1 L260.4,367.9 L260.9,363.1 L261.4,357.4 L262.0,347.3 L262.5,346.0 L263.0,337.2 L263.5,333.4 L264.0,326.7 L264.7,320.9 L265.3,320.3 L265.9,321.4 L266.5,323.7 L267.1,331.9 L267.6,329.3 L268.1,324.1 L268.6,322.5 L269.2,320.3 L269.7,324.5 L270.2,329.7 L270.7,333.7 L271.2,339.6 L271.7,342.2 L272.2,347.8 L272.8,348.4 L273.3,349.9 L273.8,349.5 L274.3,348.6 L274.8,344.7 L275.3,349.4 L275.8,351.3 L276.4,357.6 L276.9,358.8 L277.4,364.6 L277.9,363.9 L278.4,369.2 L279.0,367.0 L279.6,369.6 L280.2,369.9 L280.7,367.9 L281.2,364.6 L281.8,361.7 L282.3,357.1 L282.8,352.4 L283.4,348.2 L283.9,344.0 L284.5,342.5 L285.1,342.2 L285.6,342.3 L286.1,340.2 L286.6,338.5 L287.2,339.6 L287.7,337.1 L288.2,335.3 L288.7,336.7 L289.2,335.1 L289.7,337.0 L290.2,338.7 L290.8,336.8 L291.3,341.9 L291.8,344.7 L292.3,344.6 L292.8,343.5 L293.3,348.5 L293.8,349.9 L294.4,351.3 L295.0,349.8 L295.6,352.8 L296.2,357.6 L296.7,358.1 L297.2,358.7 L297.7,361.7 L298.2,363.3 L298.7,362.7 L299.3,363.1 L299.9,361.3 L300.5,358.9 L301.0,364.1 L301.6,366.1 L302.1,368.1 L302.6,369.2 L303.1,367.4 L303.6,372.2 L304.1,375.4 L304.7,374.6 L305.2,375.6 L305.7,376.2 L306.2,381.2 L306.7,377.5 L307.2,380.9 L307.7,382.0 L308.3,384.4 L308.8,378.3 L309.3,377.8 L309.8,378.4 L310.3,373.0 L310.8,374.6 L311.3,375.4 L311.9,376.6 L312.4,374.2 L312.9,375.6 L313.4,371.3 L313.9,368.2 L314.4,365.5 L314.9,360.2 L315.5,358.5 L316.1,355.7 L316.7,353.7 L317.3,353.2 L317.9,355.1 L318.5,357.6 L319.1,361.9 L319.6,364.6 L320.1,366.0 L320.6,370.5 L321.1,370.1 L321.6,377.4 L322.1,378.4 L322.7,378.9 L323.2,378.2 L323.7,373.5 L324.2,375.9 L324.7,375.8 L325.2,377.2 L325.7,373.0 L326.3,373.6 L326.8,371.0 L327.3,370.2 L327.8,367.9 L328.4,363.2 L329.0,365.2 L329.6,362.7 L330.1,366.1 L330.6,367.0 L331.1,372.4 L331.7,373.0 L332.3,377.6 L332.9,373.7 L333.5,375.6 L334.0,373.7 L334.6,374.8 L335.1,374.8 L335.7,373.6 L336.2,371.9 L336.8,376.3 L337.3,373.0 L337.9,375.7 L338.4,371.8 L339.0,370.1 L339.5,374.7 L340.1,375.0 L340.6,376.5 L341.2,372.5 L341.7,375.5 L342.3,372.5 L342.8,373.5 L343.4,370.0 L343.9,371.3 L344.5,373.1 L345.0,374.3 L345.6,374.7 L346.1,373.0 L346.7,373.4 L347.2,374.4 L347.8,374.6 L348.3,375.0 L348.9,373.5 L349.4,374.7 L349.9,374.0 L350.4,375.8 L350.9,375.4 L351.5,374.0 L352.0,375.6 L352.5,376.7 L353.0,380.2 L353.5,382.9 L354.0,385.9 L354.6,392.0 L355.2,397.9 L355.8,403.9 L356.3,408.5 L356.9,412.3 L357.4,416.7 L358.0,417.1 L358.6,421.8 L359.2,424.5 L359.8,423.7 L360.5,419.3 L361.1,427.1 L361.7,432.2 L362.3,434.9 L362.9,438.1 L363.5,439.9 L364.1,435.1 L364.6,429.3 L365.1,429.6 L365.7,425.0 L366.3,420.8 L366.9,419.3 L367.4,421.5 L367.9,420.9 L368.4,419.1 L369.0,425.8 L369.6,420.1 L370.2,422.9 L370.8,419.3 L371.3,420.8 L371.8,420.2 L372.3,422.0 L372.8,425.8 L373.3,426.3 L373.8,427.5 L374.4,427.7 L374.9,430.2 L375.4,430.1 L375.9,428.3 L376.4,429.8 L376.9,431.1 L377.4,433.9 L378.0,434.2 L378.5,432.2 L379.0,435.4 L379.5,432.3 L380.0,433.2 L380.5,435.3 L381.0,434.8 L381.6,433.6 L382.1,434.5 L382.6,433.3 L383.1,432.8 L383.6,429.6 L384.1,428.2 L384.6,430.5 L385.2,427.9 L385.7,423.3 L386.2,420.6 L386.7,421.9 L387.2,426.7 L387.7,423.9 L388.2,425.5 L388.8,424.5 L389.3,426.3 L389.8,424.3 L390.3,421.2 L390.8,422.1 L391.3,421.9 L391.9,422.2 L392.4,423.6 L393.0,423.4 L393.5,421.9 L394.1,422.7 L394.6,422.3 L395.2,420.6 L395.7,421.3 L396.3,420.6 L396.9,419.7 L397.4,420.8 L398.0,418.1 L398.5,419.3 L399.1,410.9 L399.7,405.1 L400.3,398.7 L400.8,395.3 L401.4,395.5 L401.9,392.4 L402.4,393.1 L402.9,394.9 L403.4,394.4 L403.9,394.8 L404.4,393.6 L405.0,392.5 L405.5,392.3 L406.0,389.5 L406.5,394.0 L407.0,393.2 L407.5,393.7 L408.0,391.0 L408.6,389.1 L409.1,387.9 L409.6,383.9 L410.1,385.9 L410.7,381.8 L411.3,379.0 L411.9,373.0 L412.5,365.2 L413.1,361.7 L413.7,357.6 L414.2,357.7 L414.7,353.6 L415.2,351.6 L415.8,355.0 L416.3,349.9 L416.8,349.0 L417.3,346.1 L417.8,347.3 L418.3,346.9 L418.8,348.6 L419.4,350.3 L419.9,349.9 L420.4,353.6 L420.9,357.3 L421.4,356.3 L421.9,357.1 L422.4,350.6 L423.0,348.3 L423.5,347.3 L424.0,342.5 L424.5,339.5 L425.0,338.5 L425.5,337.0 L426.1,331.9 L426.7,328.3 L427.3,322.9 L428.0,315.3 L428.6,312.6 L429.1,314.3 L429.7,320.9 L430.2,326.7 L430.7,322.6 L431.2,319.1 L431.7,316.4 L432.2,314.1 L432.7,312.6 L433.3,316.7 L433.8,324.4 L434.3,329.3 L434.8,332.1 L435.3,333.3 L435.8,334.0 L436.3,337.0 L436.9,336.7 L437.4,332.8 L437.9,334.6 L438.4,338.3 L439.0,333.3 L439.6,327.6 L440.2,326.7 L440.7,323.8 L441.2,322.2 L441.7,317.6 L442.3,317.7 L442.9,318.6 L443.5,321.0 L444.1,324.2 L444.6,326.5 L445.1,329.2 L445.6,330.3 L446.1,331.9 L446.6,330.8 L447.1,331.7 L447.7,332.3 L448.2,334.0 L448.7,333.2 L449.3,333.5 L450.0,332.0 L450.6,330.0 L451.2,327.2 L451.8,327.1 L452.4,327.6 L452.9,326.5 L453.4,326.4 L454.0,328.6 L454.5,329.1 L455.0,331.0 L455.5,331.4 L456.0,333.0 L456.6,332.4 L457.1,337.2 L457.6,334.0 L458.1,340.5 L458.5,347.5 L459.0,351.0 L459.5,352.2 L460.0,353.7 L460.5,348.5 L461.0,352.0 L461.5,349.3 L462.0,351.1 L462.5,352.1 L463.0,351.0 L463.5,356.0 L464.0,354.5 L464.5,356.1 L465.0,354.0 L465.5,357.3 L466.0,358.4 L466.6,358.7 L467.1,358.3 L467.6,359.0 L468.1,353.6 L468.5,344.8 L469.0,340.0 L469.5,341.5 L470.0,338.8 L470.6,340.0 L471.1,343.6 L471.6,340.0 L472.2,342.1 L472.8,342.8 L473.4,345.8 L474.0,345.0 L474.5,347.0 L475.0,346.4 L475.5,348.8 L476.0,350.0 L476.5,353.0 L477.0,355.6 L477.5,355.2 L478.0,358.0 L478.6,364.2 L479.2,365.0 L479.8,367.1 L480.4,363.0 L481.0,360.0 L481.5,361.4 L482.0,360.6 L482.5,363.8 L483.0,362.0 L483.6,363.0 L484.2,365.8 L484.8,365.7 L485.4,366.3 L486.0,369.0 L486.5,368.3 L487.0,368.5 L487.5,365.4 L488.0,363.0 L488.6,362.2 L489.2,364.1 L489.8,363.3 L490.4,363.6 L491.0,363.0 L491.5,364.1 L492.0,362.4 L492.5,357.9 L493.0,356.0 L493.5,358.7 L494.0,354.9 L494.5,354.1 L495.0,351.0 L495.5,348.9 L495.9,347.4 L496.4,346.0 L496.9,343.9 L497.5,350.0 L498.0,349.0 L498.5,350.0 L499.0,344.0 L499.5,340.1 L500.0,341.0 L500.5,336.5 L501.0,340.2 L501.5,338.2 L502.0,338.0 L502.5,336.2 L503.0,334.4 L503.5,333.1 L504.0,332.0 L504.5,329.7 L505.1,330.7 L505.6,331.0 L506.2,329.3 L506.8,331.9 L507.4,334.2 L508.0,335.0 L508.5,337.8 L509.0,338.9 L509.5,339.4 L510.0,343.0 L510.5,343.2 L511.0,343.1 L511.5,346.8 L512.0,345.0 L512.6,349.1 L513.2,349.0 L514.0,360.0 L514.6,380.0 L515.4,395.0 L515.9,396.5 L516.4,397.0 L517.2,384.0 L517.8,378.9 L518.4,375.0 L518.9,374.6 L519.5,374.9 L520.0,378.0 L520.5,374.0 L521.1,372.7 L521.6,370.0 L522.1,370.2 L522.5,369.9 L523.0,368.0 L523.5,370.7 L523.9,365.5 L524.4,364.0 L524.9,365.8 L525.5,372.1 L526.0,369.0 L526.5,366.3 L527.0,365.1 L527.5,365.0 L528.0,364.0 L528.5,361.5 L529.1,359.4 L529.6,356.0 L530.1,353.2 L530.5,351.2 L531.0,348.0 L531.5,347.0 L531.9,346.7 L532.4,344.0 L532.9,338.9 L533.5,336.9 L534.0,337.0 L534.6,339.6 L535.2,344.0 L535.8,338.4 L536.4,337.0 L536.9,336.8 L537.5,341.9 L538.0,344.0 L538.5,342.0 L539.0,342.7 L539.5,342.5 L540.0,340.0 L540.5,340.1 L541.0,339.2 L541.5,337.3 L542.0,336.0 L542.5,333.9 L543.0,335.6 L543.5,337.2 L544.0,337.0 L544.5,336.5 L545.0,337.1 L545.5,338.9 L546.0,338.0 L546.5,337.4 L547.0,339.7 L547.5,342.9 L548.0,340.0 L548.5,340.3 L549.0,340.3 L549.5,339.9 L550.0,340.0 L550.5,343.1 L551.0,342.4 L551.5,343.5 L552.0,342.0 L552.6,341.3 L553.2,341.4 L553.8,341.3 L554.4,338.2 L555.0,341.0 L555.6,342.4 L556.2,343.0 L556.8,338.7 L557.4,341.5 L558.0,341.0 L558.5,339.3 L559.1,338.4 L559.6,336.0 L560.1,333.2 L560.5,326.4 L561.0,325.0 L561.5,322.2 L561.9,323.8 L562.4,320.0 L562.9,319.3 L563.4,317.2 L563.9,315.6 L564.4,318.0 L564.9,314.7 L565.4,317.1 L566.0,320.1 L566.5,318.9 L567.0,317.0 L567.5,318.5 L568.0,322.1 L568.5,319.1 L569.0,319.0 L569.5,317.8 L570.0,319.1 L570.5,319.4 L571.0,318.0 L571.5,319.0 L571.9,320.2 L572.4,325.0 L572.9,327.0 L573.5,330.0 L574.0,332.0 L574.5,329.1 L575.0,329.4 L575.5,328.4 L576.0,329.0 L576.5,328.6 L577.0,327.4 L577.5,326.6 L578.0,326.0 L578.5,325.8 L579.0,328.6 L579.5,330.4 L580.0,328.0 L580.6,328.4 L581.2,329.6 L581.8,327.3 L582.4,328.0 L582.9,326.6 L583.4,326.7 L583.9,327.3 L584.4,323.0 L584.9,323.2 L585.4,322.5 L585.9,322.6 L586.4,322.0 L586.9,318.2 L587.5,318.5 L588.0,318.0 L588.5,313.6 L589.1,312.1 L589.6,309.0 L590.1,306.1 L590.6,303.0 L591.1,304.7 L591.6,305.0 L592.3,297.7 L592.9,295.4 L593.4,292.2 L594.0,292.0 L594.6,288.5 L595.1,286.8 L595.7,284.1 L596.3,283.8 L596.9,281.7 L597.4,277.5 L598.0,276.2 L598.6,275.8 L599.1,274.8 L599.7,275.4 L600.3,273.8 L600.9,273.7 L601.4,272.5 L602.0,273.2 L602.6,275.8 L603.3,277.1 L603.8,278.5 L604.3,273.9 L604.9,272.5 L605.4,273.1 L606.0,266.0 L606.6,262.4 L607.1,258.8 L607.7,257.5 L608.3,257.3 L608.9,252.2 L609.4,252.0 L610.0,243.9 L610.6,243.6 L611.1,241.2 L611.7,236.0 L612.3,231.4 L612.9,228.8 L613.5,217.7 L614.1,215.2 L614.6,209.7 L615.1,204.0 L615.7,208.3 L616.4,209.9 L617.0,210.8 L617.5,215.7 L618.0,212.9 L618.6,215.4 L619.1,216.7 L619.7,213.8 L620.3,221.5 L620.9,224.6 L621.4,220.2 L622.0,218.9 L622.6,218.4 L623.1,210.8 L623.7,207.1 L624.3,200.6 L624.8,194.6 L625.4,190.3 L626.0,186.3 L626.6,184.0 L627.1,183.9 L627.7,181.1 L628.2,178.3 L628.8,175.2 L629.3,172.0 L629.9,177.5 L630.5,184.9 L631.1,189.1 L631.7,187.6 L632.3,183.7 L632.8,181.8 L633.4,177.7 L634.0,175.2 L634.6,170.5 L635.2,169.7 L635.8,170.0 L636.3,168.1 L636.8,165.1 L637.4,166.3 L638.0,171.1 L638.6,173.1 L639.1,174.3 L639.7,170.3 L640.3,172.8 L640.8,170.4 L641.4,167.4 L642.0,169.1 L642.6,167.9 L643.1,166.7 L643.7,166.3 L644.3,162.3 L644.9,164.3 L645.5,162.5 L646.1,160.4 L646.7,159.4 L647.2,163.3 L647.7,166.6 L648.3,169.7 L648.8,174.8 L649.3,177.1 L649.9,181.1 L650.5,177.6 L651.1,170.6 L651.7,170.9 L652.2,168.2 L652.8,169.9 L653.3,171.2 L653.9,168.3 L654.4,167.4 L655.1,170.7 L655.7,176.9 L656.3,177.7 L656.9,183.8 L657.5,190.5 L658.1,194.8 L658.6,203.9 L659.2,207.5 L659.7,212.0 L660.3,213.6 L660.8,209.9 L661.4,209.7 L662.0,208.6 L662.6,210.8 L663.1,213.3 L663.7,217.4 L664.3,217.7 L664.8,219.3 L665.4,211.9 L666.0,207.5 L666.6,205.1 L667.2,208.4 L667.8,208.9 L668.4,213.1 L668.9,215.4 L669.4,218.2 L669.9,219.0 L670.4,221.1 L671.0,220.9 L671.6,216.5 L672.2,218.2 L672.7,216.6 L673.3,214.8 L673.9,215.9 L674.5,216.9 L675.1,218.0 L675.7,220.0 L676.3,222.6 L676.9,223.7 L677.5,224.3 L678.1,227.1 L678.7,228.0 L679.2,225.2 L679.7,217.6 L680.3,210.8 L680.8,208.4 L681.3,206.4 L681.9,200.6 L682.5,203.4 L683.1,201.9 L683.7,205.1 L684.3,205.3 L684.8,203.3 L685.4,193.2 L686.0,191.4 L686.5,189.6 L687.1,189.6 L687.6,189.8 L688.2,188.6 L688.7,185.7 L689.3,185.0 L689.9,182.3 L690.4,182.7 L691.0,182.3 L691.6,185.0 L692.2,183.3 L692.8,185.7 L693.4,182.0 L694.1,181.8 L694.7,181.1 L695.2,179.6 L695.8,183.4 L696.4,185.8 L696.9,189.1 L697.6,188.3 L698.2,185.8 L698.8,185.7 L699.5,188.4 L700.1,194.8 L700.8,194.3 L701.4,195.8 L702.0,197.1 L702.6,191.6 L703.2,188.3 L703.8,184.6 L704.4,182.3 L704.9,180.1 L705.5,178.0 L706.1,170.9 L706.7,168.5 L707.2,165.6 L707.8,159.5 L708.4,161.7 L708.9,162.2 L709.4,158.8 L710.0,158.3 L710.5,159.1 L711.1,161.4 L711.7,159.7 L712.3,162.9 L712.8,162.4 L713.4,161.7 L714.0,158.0 L714.5,160.6 L715.1,158.8 L715.7,160.1 L716.3,154.6 L716.8,156.0 L717.4,159.1 L718.0,161.9 L718.7,164.0 L719.2,166.1 L719.8,167.4 L720.4,170.0 L720.9,168.6 L721.5,170.0 L722.1,171.9 L722.7,171.0 L723.2,172.0 L723.8,175.9 L724.3,176.4 L724.8,180.0 L725.4,180.6 L726.0,185.0 L726.5,185.1 L727.1,184.6 L727.7,185.2 L728.3,183.3 L728.8,183.4 L729.4,185.7 L730.0,184.2 L730.5,184.9 L731.1,183.5 L731.7,181.1 L732.3,184.4 L732.9,185.3 L733.5,186.8 L734.1,191.0 L734.7,190.5 L735.2,191.1 L735.8,193.7 L736.4,195.8 L736.9,195.9 L737.5,196.0 L738.1,197.1 L738.6,196.8 L739.1,197.8 L739.7,199.4 L740.2,204.8 L740.7,209.4 L741.3,213.1 L741.9,210.2 L742.4,211.0 L743.0,210.0 L743.6,208.6 L744.2,203.5 L744.8,202.5 L745.4,198.3 L746.0,197.2 L746.5,195.9 L747.1,196.8 L747.7,194.8 L748.3,199.8 L748.9,199.2 L749.5,201.7 L750.1,204.4 L750.6,204.4 L751.2,211.2 L751.8,209.7 L752.3,205.1 L752.9,202.0 L753.4,194.8 L753.9,197.9 L754.5,203.0 L755.0,205.1 L755.6,209.3 L756.1,202.3 L756.7,203.4 L757.3,205.1 L757.8,203.9 L758.4,202.2 L759.0,199.7 L759.6,199.4 L760.1,200.7 L760.7,196.7 L761.3,191.1 L761.8,191.4 L762.5,190.9 L763.1,186.4 L763.7,188.0 L764.3,190.9 L764.9,191.2 L765.5,193.7 L766.1,195.4 L766.6,199.3 L767.2,199.8 L767.8,200.6 L768.3,198.8 L768.9,197.4 L769.4,202.0 L770.0,203.0 L770.5,201.7 L771.1,201.7 L771.7,204.6 L772.2,205.5 L772.8,205.1 L773.4,208.1 L774.0,204.7 L774.5,207.7 L775.1,210.8 L775.8,217.5 L776.5,222.3 L777.2,229.0 L777.8,232.6 L778.4,234.1 L779.0,228.2 L779.6,230.3 L780.2,231.2 L780.8,230.3 L781.4,234.3 L782.0,229.3 L782.6,228.3 L783.2,228.3 L783.8,228.0 L784.4,230.0 L784.9,228.9 L785.5,231.6 L786.1,230.3 L786.6,235.3 L787.1,241.9 L787.7,247.4 L788.2,251.9 L788.7,258.0 L789.3,263.4 L790.0,265.6 L790.6,270.3 L791.2,264.8 L791.7,266.4 L792.2,263.4 L792.8,266.1 L793.5,266.5 L794.1,269.1 L794.6,266.9 L795.1,266.3 L795.7,262.3 L796.3,263.1 L796.9,265.5 L797.5,268.0 L798.0,266.0 L798.6,263.8 L799.1,260.0 L799.7,258.1 L800.2,252.9 L800.8,255.7 L801.4,253.1 L802.0,254.8 L802.5,255.2 L803.1,255.3 L803.7,256.5 L804.2,255.7 L804.8,253.6 L805.4,251.2 L806.0,252.0 L806.5,249.7 L807.1,249.7 L807.7,249.5 L808.2,250.8 L808.8,249.8 L809.5,254.1 L810.1,255.4 L810.6,255.5 L811.1,260.3 L811.7,262.3 L812.2,261.2 L812.8,263.4 L813.4,266.3 L813.9,264.5 L814.6,267.6 L815.2,267.5 L815.8,270.3 L816.4,267.0 L817.0,264.3 L817.6,261.1 L818.1,260.2 L818.6,263.1 L819.1,266.7 L819.7,269.1 L820.2,268.7 L820.8,270.1 L821.4,272.0 L821.9,271.4 L822.5,272.9 L823.1,273.2 L823.7,272.6 L824.2,270.8 L824.8,270.5 L825.4,270.3 L825.9,270.0 L826.5,269.9 L827.1,270.3 L827.7,267.9 L828.2,269.5 L828.8,271.4 L829.4,270.2 L829.9,268.4 L830.5,269.0 L831.1,269.1 L831.7,268.6 L832.2,266.8 L832.8,269.2 L833.4,264.5 L833.9,261.1 L834.5,262.5 L835.1,260.1 L835.7,263.4 L836.2,267.6 L836.7,275.7 L837.3,274.8 L837.9,275.6 L838.5,281.0 L839.1,285.1 L839.6,286.1 L840.1,285.6 L840.6,286.3 L841.1,287.8 L841.6,284.3 L842.2,288.5 L842.7,287.6 L843.3,287.0 L843.9,285.4 L844.4,284.0 L845.0,282.8 L845.6,284.3 L846.2,282.7 L846.8,283.2 L847.4,282.8 L848.0,281.3 L848.6,277.2 L849.2,280.5 L849.8,279.9 L850.3,282.1 L850.8,284.3 L851.3,284.0 L851.9,283.1 L852.5,284.0 L853.1,285.6 L853.7,285.4 L854.3,285.1 L854.8,287.2 L855.4,288.9 L856.0,284.5 L856.6,281.1 L857.1,284.5 L857.7,284.0 L858.2,282.9 L858.8,278.9 L859.3,272.5 L859.9,269.1 L860.4,261.1 L861.0,259.3 L861.7,256.8 L862.3,256.5 L862.8,256.7 L863.4,253.7 L864.0,250.5 L864.6,253.1 L865.1,250.5 L865.7,256.9 L866.3,258.4 L866.8,254.3 L867.4,256.2 L868.1,256.2 L868.7,258.8 L869.2,256.5 L869.7,253.0 L870.3,252.0 L870.8,253.0 L871.3,250.9 L871.9,249.7 L872.5,249.5 L873.1,254.4 L873.7,254.3 L874.3,255.0 L874.9,256.8 L875.5,257.7 L876.0,259.7 L876.5,261.2 L877.1,264.1 L877.6,265.7 L878.1,257.8 L878.7,252.0 L879.4,243.3 L880.1,241.7 L880.6,235.2 L881.2,234.7 L881.7,237.1 L882.3,234.2 L882.8,235.6 L883.4,236.0 L884.0,236.0 L884.6,236.6 L885.2,236.0 L885.8,234.1 L886.4,233.4 L886.9,234.8 L887.5,229.0 L888.1,229.7 L888.7,229.9 L889.2,228.0 L889.7,231.0 L890.3,232.1 L890.8,233.7 L891.3,236.0 L891.8,236.8 L892.3,235.2 L892.8,235.4 L893.3,234.7 L893.8,232.6 L894.4,234.0 L894.9,236.2 L895.5,234.2 L896.1,234.8 L896.7,235.3 L897.2,235.5 L897.8,236.3 L898.4,239.4 L898.9,241.6 L899.5,243.5 L900.0,241.4 L900.6,241.8 L901.1,240.5 L901.7,242.5 L902.3,241.7 L902.8,241.7 L903.4,238.3 L904.0,238.0 L904.5,238.5 L905.1,241.1 L905.7,241.7 L906.3,244.5 L906.8,243.3 L907.4,241.5 L908.0,242.8 L908.6,242.6 L909.2,242.9 L909.8,245.1 L910.3,240.9 L910.9,242.4 L911.4,238.3 L912.0,233.3 L912.5,229.1 L913.1,228.7 L913.7,232.2 L914.3,231.6 L914.8,228.0 L915.4,229.4 L916.0,227.0 L916.5,227.7 L917.1,226.8 L917.7,230.2 L918.2,229.8 L918.8,231.1 L919.3,229.8 L919.9,229.1 L920.4,230.7 L921.0,229.8 L921.6,230.7 L922.1,230.3 L922.7,233.2 L923.3,229.6 L923.9,231.0 L924.5,232.3 L925.1,232.6 L925.7,231.5 L926.3,231.3 L926.8,233.0 L927.4,235.6 L928.0,234.0 L928.5,231.4 L929.1,234.3 L929.8,232.3 L930.4,236.0 L930.9,241.9 L931.5,242.8 L932.1,243.6 L932.6,242.7 L933.2,240.4 L933.7,241.2 L934.3,241.7 L934.8,240.0 L935.4,241.8 L936.0,243.4 L936.5,243.5 L937.1,244.2 L937.7,244.0 L938.2,243.0 L938.8,246.5 L939.4,244.4 L940.0,245.1 L940.5,240.7 L941.1,241.4 L941.7,239.9 L942.2,240.5 L942.8,238.5 L943.4,239.7 L944.0,241.4 L944.5,241.7 L945.1,238.8 L945.7,239.0 L946.2,241.2 L946.8,238.3 L947.4,240.4 L948.0,239.2 L948.5,239.5 L949.1,239.4 L949.7,237.4 L950.3,235.5 L950.9,233.7 L951.5,231.9 L952.0,227.9 L952.5,224.6 L953.1,217.1 L953.7,217.7 L954.2,215.7 L954.8,214.5 L955.4,216.4 L956.0,215.4 L956.5,213.7 L957.1,213.6 L957.7,216.5 L958.2,212.0 L958.8,211.2 L959.4,209.3 L960.0,208.0 L960.5,210.8 L961.1,205.1 L961.7,204.7 L962.2,208.0 L962.8,208.6 L963.4,206.5 L964.0,203.7 L964.5,203.0 L965.1,206.3 L965.7,202.9 L966.3,198.8 L966.9,197.1 L967.5,194.9 L968.0,195.0 L968.5,193.7 L969.1,196.6 L969.7,199.0 L970.2,198.6 L970.8,196.0 L971.4,197.4 L972.0,196.8 L972.6,199.3 L973.2,199.6 L973.8,196.0 L974.4,196.1 L974.9,195.9 L975.5,195.1 L976.1,193.7 L976.6,193.5 L977.2,191.8 L977.8,189.5 L978.4,191.4 L978.9,188.9 L979.4,186.6 L980.0,189.1 L980.5,192.4 L981.0,194.9 L981.6,196.0 L982.1,195.8 L982.7,200.7 L983.3,202.4 L983.8,201.7 L984.4,197.7 L985.1,200.9 L985.7,197.1 L986.2,198.7 L986.8,200.3 L987.4,194.8 L988.0,194.8 L988.6,192.5 L989.2,189.7 L989.8,185.7 L990.3,184.1 L990.8,181.7 L991.4,178.8 L992.0,180.5 L992.5,176.4 L993.1,175.2 L993.7,177.7 L994.2,170.9 L994.7,168.7 L995.3,167.4 L996.0,161.7 L996.6,159.4 L997.2,157.1 L997.7,155.3 L998.2,152.6 L998.8,151.0 L999.4,147.9 L1000.0,147.1 L1000.7,149.4 L1001.4,153.9 L1001.9,157.2 L1002.4,158.0 L1003.1,155.6 L1003.8,149.8 L1004.4,152.0 L1004.9,152.3 L1005.4,153.9 L1005.9,155.4 L1006.5,151.8 L1007.0,151.9 L1007.5,149.8 L1008.1,152.4 L1008.7,150.7 L1009.2,150.5 L1009.9,154.4 L1010.6,155.3 L1011.3,156.0 L1012.0,159.4 L1012.5,159.5 L1013.1,157.9 L1013.6,156.0 L1014.3,155.2 L1015.0,159.4 L1015.5,162.1 L1016.0,162.9 L1016.6,166.8 L1017.3,165.5 L1018.0,160.7 L1018.5,160.4 L1019.1,160.7 L1019.7,161.4 L1020.4,159.3 L1021.1,156.6 L1021.7,154.6 L1022.3,153.7 L1022.8,151.9 L1023.4,150.8 L1023.9,152.3 L1024.5,151.2 L1025.0,151.7 L1025.5,152.0 L1026.0,147.2 L1026.5,151.9 L1027.1,151.4 L1027.7,150.3 L1028.3,149.2 L1028.8,146.9 L1029.4,149.6 L1029.9,151.2 L1030.5,152.8 L1031.0,155.5 L1031.6,154.6 L1032.1,154.6 L1032.7,159.1 L1033.3,158.0 L1034.0,159.9 L1034.7,160.7 L1035.3,165.6 L1035.9,163.3 L1036.4,162.8 L1037.0,166.8 L1037.5,167.7 L1038.1,170.2 L1038.6,167.9 L1039.2,170.5 L1039.7,168.9 L1040.4,167.4 L1041.1,162.1 L1041.8,162.0 L1042.4,155.3 L1043.1,156.9 L1043.8,153.2 L1044.4,153.4 L1045.0,150.8 L1045.6,153.9 L1046.2,153.9 L1046.9,158.0 L1047.6,164.3 L1048.3,174.3 L1048.8,167.9 L1049.2,165.5 L1049.8,165.3 L1050.4,165.2 L1051.0,164.1 L1051.6,164.1 L1052.2,164.8 L1052.8,164.8 L1053.3,162.8 L1053.9,161.5 L1054.4,159.4 L1055.1,164.1 L1055.8,166.2 L1056.3,168.8 L1056.8,166.8 L1057.3,165.0 L1057.8,168.2 L1058.3,171.5 L1058.9,172.5 L1059.4,173.6 L1059.9,174.0 L1060.4,168.0 L1060.9,168.2 L1061.5,165.3 L1062.0,164.6 L1062.6,163.4 L1063.2,159.5 L1063.9,160.7 L1064.4,158.1 L1064.9,159.6 L1065.4,160.2 L1066.0,157.3 L1066.6,162.1 L1067.3,160.0 L1068.0,161.5 L1068.7,163.4 L1069.3,160.1 L1069.9,161.6 L1070.4,160.7 L1071.0,160.5 L1071.5,158.0 L1072.1,155.3 L1072.8,152.4 L1073.4,153.2 L1073.9,154.1 L1074.5,155.2 L1075.0,155.2 L1075.5,153.9 L1076.2,150.9 L1076.8,148.5 L1077.5,150.2 L1078.2,151.2 L1078.9,148.3 L1079.6,142.4 L1080.0,138.2 L1080.5,134.9 L1081.1,128.2 L1081.6,128.1 L1082.3,125.4 L1083.0,124.0 L1083.6,122.2 L1084.3,119.2 L1085.0,120.8 L1085.7,122.0 L1086.2,122.9 L1086.8,120.2 L1087.3,119.9 L1087.9,118.7 L1088.5,117.5 L1089.1,117.2 L1089.7,117.7 L1090.3,119.7 L1090.8,116.5 L1091.5,115.5 L1092.1,117.1 L1092.8,111.8 L1093.3,118.7 L1093.8,117.9 L1094.5,123.0 L1095.2,122.6 L1095.7,123.9 L1096.3,125.0 L1096.8,120.6 L1097.5,122.3 L1098.2,122.0 L1098.7,120.1 L1099.3,117.9 L1099.8,117.7 L1100.4,121.2 L1100.9,122.6 L1101.6,122.3 L1102.3,117.2 L1103.0,116.5 L1103.6,112.4 L1104.2,113.5 L1104.8,112.1 L1105.4,111.8 L1105.9,112.6 L1106.4,110.5 L1106.9,114.3 L1107.4,113.8 L1108.1,115.5 L1108.8,117.9 L1109.3,116.1 L1109.9,116.4 L1110.4,118.6 L1111.0,116.9 L1111.6,120.2 L1112.2,119.9 L1112.7,121.8 L1113.3,118.1 L1113.8,120.5 L1114.4,121.2 L1114.9,119.2 L1115.6,121.3 L1116.3,124.0 L1116.8,126.1 L1117.2,133.5 L1117.8,128.3 L1118.3,127.4 L1118.9,127.9 L1119.4,132.2 L1120.1,134.1 L1120.8,136.2 L1121.4,133.9 L1122.1,132.8 L1122.7,128.9 L1123.2,131.5 L1123.8,132.2 L1124.3,128.6 L1124.8,131.3 L1125.4,130.1 L1126.0,129.2 L1126.6,130.1 L1127.2,132.8 L1127.8,131.8 L1128.5,134.9 L1129.1,134.6 L1129.6,139.2 L1130.2,139.0 L1130.7,138.6 L1131.2,134.2 L1131.7,135.4 L1132.3,134.3 L1132.8,130.4 L1133.3,132.2 L1134.0,127.4 L1134.6,126.0 L1135.2,122.8 L1135.7,122.6 L1136.3,120.2 L1136.8,122.3 L1137.4,122.0 L1137.9,120.3 L1138.4,119.4 L1139.0,120.6 L1139.7,115.9 L1140.4,115.8 L1141.0,110.5 L1141.7,113.8 L1142.4,111.9 L1143.1,111.1 L1143.8,110.8 L1144.4,106.3 L1145.1,109.0 L1145.8,109.7 L1146.4,108.6 L1147.0,105.1 L1147.6,110.4 L1148.2,109.6 L1148.9,111.8 L1149.5,112.9 L1150.1,111.9 L1150.7,110.4 L1151.4,113.0 L1152.0,111.8" fill="none" stroke="#1a1a1a" stroke-width="1.8" stroke-linejoin="round" stroke-linecap="round" filter="url(#lsoft)"/>
<!-- axes -->
<rect x="82.8" y="82.4" width="2" height="555" fill="#2a2a2a"/>
<rect x="1159.5" y="82" width="1.6" height="556" fill="#e3e3e6"/>
<!-- title -->
<text x="622" y="27.7" font-size="23" font-weight="bold" text-anchor="middle" fill="#161616" stroke="#161616" stroke-width="0.3" textLength="328" lengthAdjust="spacingAndGlyphs">Bitcoin: Total Supply by Age</text>
<!-- legend -->
<circle cx="432.6" cy="53.5" r="8" fill="#d6749f"/>
<text x="446" y="59.7" font-size="15.8" fill="#262626" textLength="126" lengthAdjust="spacingAndGlyphs">Long-term Supply</text>
<circle cx="600.5" cy="53.5" r="8" fill="#4a36e0"/>
<text x="614" y="59.7" font-size="15.8" fill="#262626" textLength="129" lengthAdjust="spacingAndGlyphs">Short-term Supply</text>
<rect x="762.5" y="54.4" width="17.8" height="1.8" fill="#222"/>
<text x="785" y="59.7" font-size="15.8" fill="#262626" textLength="36" lengthAdjust="spacingAndGlyphs">Price</text>
<!-- left y labels -->
<g font-size="16" fill="#222" text-anchor="end">
<text x="72" y="122.7">100K</text>
<text x="72" y="143.7">80K</text>
<text x="72" y="170.7">60K</text>
<text x="72" y="208.7">40K</text>
<text x="72" y="274.6">20K</text>
<text x="72" y="339.4">10K</text>
<text x="72" y="360.4">8K</text>
<text x="72" y="387.9">6K</text>
<text x="72" y="425.6">4K</text>
<text x="72" y="490.6">2K</text>
<text x="72" y="556.4">1K</text>
<text x="72" y="578.1">800</text>
<text x="72" y="605.5">600</text>
<text x="72" y="642.9">400</text>
</g>
<!-- right y labels -->
<g font-size="16" fill="#222">
<text x="1172.4" y="111.2">20M</text>
<text x="1172.4" y="243.2">15M</text>
<text x="1172.4" y="376.6">10M</text>
<text x="1172.4" y="509">5M</text>
<text x="1172" y="643">0</text>
</g>
<!-- axis titles -->
<text transform="translate(25,360) rotate(-90)" font-size="15.5" fill="#222" text-anchor="middle" textLength="57" lengthAdjust="spacingAndGlyphs">Price ($)</text>
<text transform="translate(1212.5,359) rotate(90)" font-size="15.5" fill="#222" text-anchor="middle" textLength="179.5" lengthAdjust="spacingAndGlyphs">Total Supply (# of Bitcoin)</text>
<!-- x ticks -->
<g fill="#e9e9e9">
<rect x="126.4" y="638" width="1" height="7"/>
<rect x="187.1" y="638" width="1" height="7"/>
<rect x="247.7" y="638" width="1" height="7"/>
<rect x="308.4" y="638" width="1" height="7"/>
<rect x="369.0" y="638" width="1" height="7"/>
<rect x="429.7" y="638" width="1" height="7"/>
<rect x="490.4" y="638" width="1" height="7"/>
<rect x="551.0" y="638" width="1" height="7"/>
<rect x="611.7" y="638" width="1" height="7"/>
<rect x="672.3" y="638" width="1" height="7"/>
<rect x="733.0" y="638" width="1" height="7"/>
<rect x="793.7" y="638" width="1" height="7"/>
<rect x="854.3" y="638" width="1" height="7"/>
<rect x="915.0" y="638" width="1" height="7"/>
<rect x="975.6" y="638" width="1" height="7"/>
<rect x="1036.3" y="638" width="1" height="7"/>
<rect x="1097.0" y="638" width="1" height="7"/>
</g>
<!-- x labels -->
<g font-size="12.7" fill="#5a5a5a" text-anchor="middle">
<text x="127.2" y="661.5">2017 Jan</text>
<text x="187.9" y="661.5">2017 Jul</text>
<text x="248.5" y="661.5">2018 Jan</text>
<text x="309.2" y="661.5">2018 Jul</text>
<text x="369.8" y="661.5">2019 Jan</text>
<text x="430.5" y="661.5">2019 Jul</text>
<text x="491.2" y="661.5">2020 Jan</text>
<text x="551.8" y="661.5">2020 Jul</text>
<text x="612.5" y="661.5">2021 Jan</text>
<text x="673.1" y="661.5">2021 Jul</text>
<text x="733.8" y="661.5">2022 Jan</text>
<text x="794.5" y="661.5">2022 Jul</text>
<text x="855.1" y="661.5">2023 Jan</text>
<text x="915.8" y="661.5">2023 Jul</text>
<text x="976.4" y="661.5">2024 Jan</text>
<text x="1037.1" y="661.5">2024 Jul</text>
<text x="1097.8" y="661.5">2025 Jan</text>
</g>
<!-- annotations -->
<text x="1064" y="459.6" font-size="33" font-weight="bold" fill="#8c30ea" textLength="72" lengthAdjust="spacingAndGlyphs">5.3M</text>
<text x="1160" y="544" font-size="33" font-weight="bold" fill="#8c30ea" textLength="72.5" lengthAdjust="spacingAndGlyphs">4.5M</text>
<g font-size="33" fill="#ffffff" fill-opacity="0.93" stroke="#a196e0" stroke-width="0.9" text-anchor="end">
<text x="1142" y="563.8" textLength="476.5" lengthAdjust="spacingAndGlyphs">Short-term holder supply is falling,</text>
<text x="1142" y="607.3" textLength="628" lengthAdjust="spacingAndGlyphs">Indicating lower demand from new investors.</text>
</g>
<text x="1070.2" y="683.5" font-size="10.2" fill="#777" textLength="159.5" lengthAdjust="spacingAndGlyphs">© CryptoQuant. All rights reserved</text>
</svg>
</body></html>
